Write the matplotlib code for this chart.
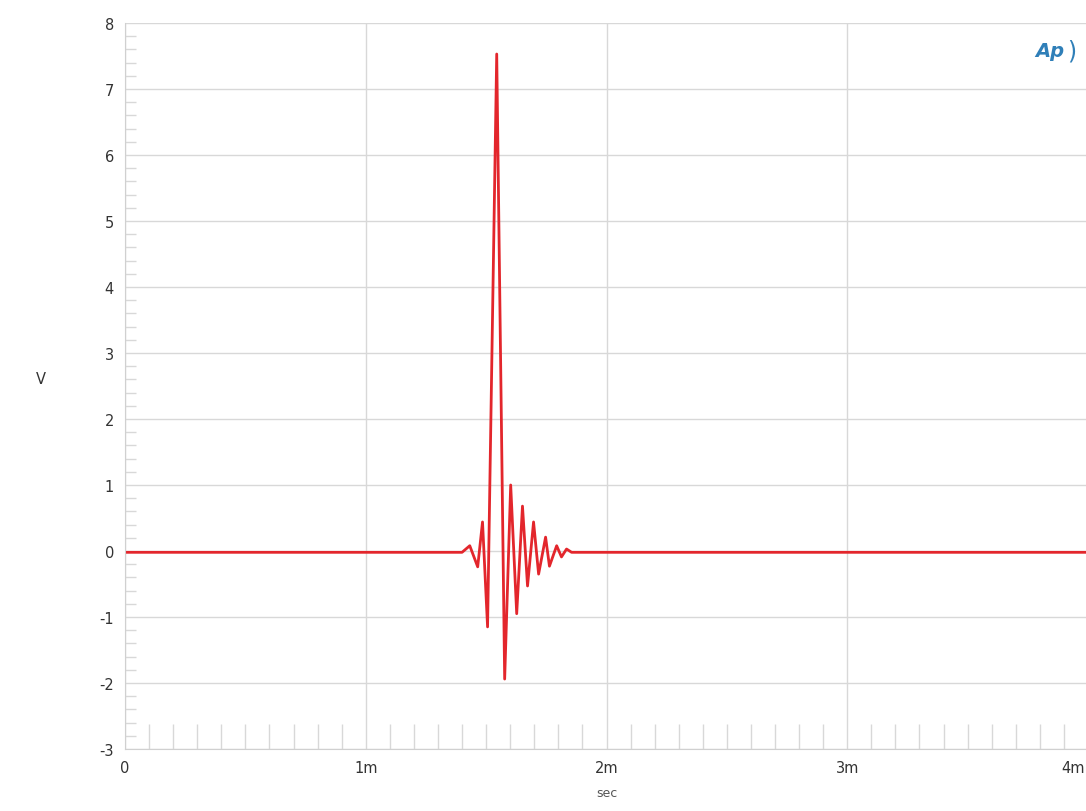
import matplotlib
matplotlib.use("Agg")
import matplotlib.pyplot as plt
import matplotlib.transforms as mtransforms
from matplotlib.ticker import MultipleLocator

plt.rcParams["axes.unicode_minus"] = False

# impulse response, time in ms, amplitude in V
time_ms = [0.0, 1.40, 1.432, 1.465, 1.485, 1.506, 1.544, 1.577, 1.602, 1.627,
           1.651, 1.672, 1.697, 1.718, 1.747, 1.763, 1.793, 1.813, 1.834, 1.855, 4.0]
volts = [-0.02, -0.02, 0.08, -0.24, 0.44, -1.15, 7.53, -1.94, 1.0, -0.95,
         0.68, -0.53, 0.44, -0.35, 0.21, -0.23, 0.08, -0.09, 0.03, -0.02, -0.02]

x_ticks = [0, 1, 2, 3, 4]
x_labels = ["0", "1m", "2m", "3m", "4m"]
y_ticks = list(range(-3, 9))

fig = plt.figure(figsize=(10.86, 8.12), dpi=100)
ax = fig.add_axes([125 / 1086, 1 - 750 / 812, 963 / 1086, 726 / 812])

ax.plot(time_ms, volts, color="#e3262c", linewidth=2.0)

ax.set_xlim(0, 4)
ax.set_ylim(-3, 8)

ax.set_xticks(x_ticks)
ax.set_xticklabels(x_labels)
ax.set_yticks(y_ticks)
ax.xaxis.set_minor_locator(MultipleLocator(0.1))
ax.yaxis.set_minor_locator(MultipleLocator(0.2))

ax.grid(True, which="major", color="#d8d8d8", linewidth=1.0)
ax.set_axisbelow(True)

ax.tick_params(axis="both", which="major", length=0, labelsize=10.5,
               labelcolor="#333333", pad=8)
ax.tick_params(axis="x", which="minor", direction="in", length=18,
               color="#d8d8d8", width=1)
ax.tick_params(axis="y", which="minor", direction="in", length=8,
               color="#d8d8d8", width=1)
ax.tick_params(top=False, right=False, which="both")

# last x label sits inside the figure edge
last = ax.get_xticklabels()[-1]
last.set_horizontalalignment("right")
last.set_transform(last.get_transform() +
                   mtransforms.ScaledTranslation(-3 / 100, 0, fig.dpi_scale_trans))

for side in ["top", "right"]:
    ax.spines[side].set_visible(False)
for side in ["left", "bottom"]:
    ax.spines[side].set_color("#d0d0d0")

ax.set_ylabel("V", rotation=0, fontsize=10.5, color="#333333")
ax.yaxis.set_label_coords(-0.087, 0.5)
ax.set_xlabel("sec", fontsize=9, color="#555555", labelpad=8)

# Ap logo in the top right corner
ax.text(0.975, 0.962, "Ap", transform=ax.transAxes, fontsize=14,
        fontstyle="italic", fontweight="bold", color="#2f7fb8",
        ha="right", va="center")
ax.text(0.988, 0.962, ")", transform=ax.transAxes, fontsize=17,
        color="#2f7fb8", ha="right", va="center")

fig.savefig("out.png", dpi=100)
